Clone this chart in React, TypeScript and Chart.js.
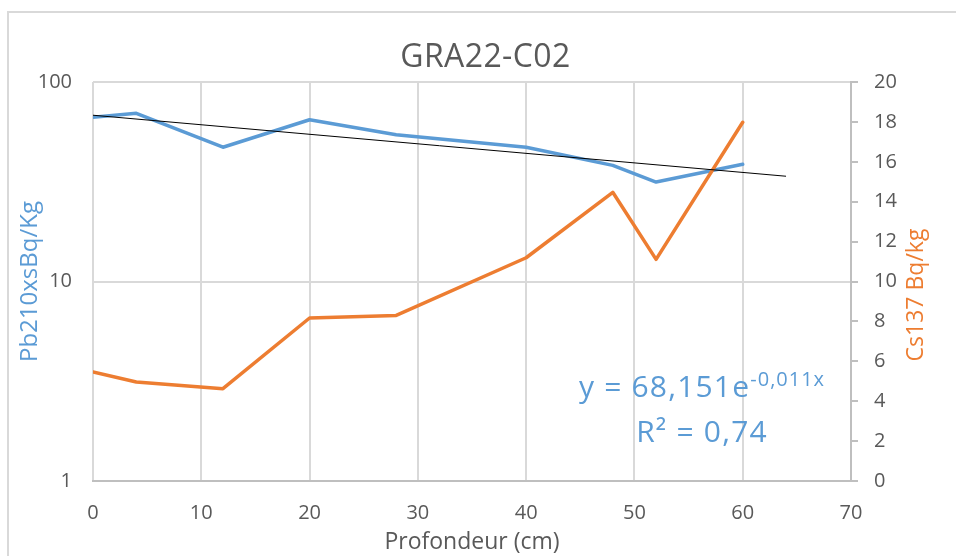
import React, { useEffect, useRef } from 'react';
import { Chart, registerables } from 'chart.js';

Chart.register(...registerables);

// ---- data ----
const depths = [0, 4, 12, 20, 28, 40, 48, 52, 60];
const pb210 = [66.5, 69.7, 47.1, 64.7, 54.4, 47.1, 38.2, 31.5, 38.7];
const cs137 = [5.46, 4.96, 4.63, 8.17, 8.3, 11.19, 14.47, 11.11, 17.98];
const trendDepths = [0, 64];
const trendValues = [68.15, 33.7];
const leftTicks = [1, 10, 100];

const titleText = 'GRA22-C02';
const xTitle = 'Profondeur (cm)';
const leftTitle = 'Pb210xsBq/Kg';
const rightTitle = 'Cs137 Bq/kg';
const eqMain = 'y = 68,151e';
const eqExp = '-0,011x';
const r2Text = 'R² = 0,74';

// ---- styles ----
const FONT = '"Open Sans", "Noto Sans", sans-serif';
const GRAY = '#595959';
const BLUE = '#5B9BD5';
const ORANGE = '#ED7D31';
const GRID = '#d9d9d9';
const AXIS = '#bfbfbf';

const textPlugin = {
  id: 'extraTexts',
  afterDraw(chart: any) {
    const ctx = chart.ctx as any;
    ctx.save();
    // title
    ctx.fillStyle = GRAY;
    ctx.font = `32px ${FONT}`;
    ctx.letterSpacing = '0.4px';
    ctx.textAlign = 'center';
    ctx.textBaseline = 'alphabetic';
    ctx.fillText(titleText, 485.5, 67);

    // equation
    ctx.fillStyle = BLUE;
    ctx.letterSpacing = '1.2px';
    ctx.font = `30px ${FONT}`;
    const w1 = ctx.measureText(eqMain).width;
    ctx.letterSpacing = '1px';
    ctx.font = `20px ${FONT}`;
    const w2 = ctx.measureText(eqExp).width;
    const start = 702 - (w1 + w2) / 2;
    ctx.textAlign = 'left';
    ctx.letterSpacing = '1.2px';
    ctx.font = `30px ${FONT}`;
    ctx.fillText(eqMain, start, 397);
    ctx.letterSpacing = '1px';
    ctx.font = `20px ${FONT}`;
    ctx.fillText(eqExp, start + w1, 386);
    ctx.letterSpacing = '1.2px';
    ctx.font = `30px ${FONT}`;
    ctx.textAlign = 'center';
    ctx.fillText(r2Text, 702, 442);

    // right axis title (reads bottom to top)
    ctx.letterSpacing = '0px';
    ctx.translate(923, 295);
    ctx.rotate(-Math.PI / 2);
    ctx.fillStyle = ORANGE;
    ctx.font = `23px ${FONT}`;
    ctx.textAlign = 'center';
    ctx.textBaseline = 'alphabetic';
    ctx.fillText(rightTitle, 0, 0);
    ctx.restore();
  },
};

export default function App() {
  const ref = useRef<HTMLCanvasElement>(null);

  useEffect(() => {
    const chart = new Chart(ref.current as HTMLCanvasElement, {
      type: 'line',
      data: {
        datasets: [
          {
            label: 'Pb210xs',
            data: depths.map((d, i) => ({ x: d, y: pb210[i] })),
            yAxisID: 'y',
            borderColor: BLUE,
            backgroundColor: BLUE,
            borderWidth: 3.5,
            pointRadius: 0,
            borderJoinStyle: 'round',
            borderCapStyle: 'round',
            order: 2,
          },
          {
            label: 'Cs137',
            data: depths.map((d, i) => ({ x: d, y: cs137[i] })),
            yAxisID: 'y1',
            borderColor: ORANGE,
            backgroundColor: ORANGE,
            borderWidth: 3.5,
            pointRadius: 0,
            borderJoinStyle: 'round',
            borderCapStyle: 'round',
            order: 1,
          },
          {
            label: 'Expon. (Pb210xs)',
            data: trendDepths.map((d, i) => ({ x: d, y: trendValues[i] })),
            yAxisID: 'y',
            borderColor: '#000000',
            backgroundColor: '#000000',
            borderWidth: 1,
            pointRadius: 0,
            order: 0,
          },
        ],
      },
      options: {
        responsive: false,
        animation: false,
        devicePixelRatio: 1,
        layout: { padding: { top: 82, left: 0, right: 0, bottom: 0 } },
        plugins: {
          legend: { display: false },
          tooltip: { enabled: false },
          title: { display: false },
        },
        scales: {
          x: {
            type: 'linear',
            position: 'bottom',
            min: 0,
            max: 70,
            ticks: { stepSize: 10, color: GRAY, font: { family: FONT, size: 20 }, padding: 20 },
            grid: { color: GRID, lineWidth: 2, drawTicks: false },
            border: { display: true, color: AXIS, width: 2 },
            title: {
              display: true,
              text: xTitle,
              color: GRAY,
              font: { family: FONT, size: 23 },
              padding: { top: 0, bottom: 0 },
            },
            afterFit: (s: any) => {
              s.height = 75;
            },
          },
          y: {
            type: 'logarithmic',
            position: 'left',
            min: 1,
            max: 100,
            afterBuildTicks: (s: any) => {
              s.ticks = leftTicks.map((v) => ({ value: v }));
            },
            ticks: {
              color: GRAY,
              font: { family: FONT, size: 20 },
              padding: 21,
              callback: (v: any) => String(v),
            },
            grid: {
              color: (c: any) => (c.tick && c.tick.value === 1 ? 'rgba(0,0,0,0)' : GRID),
              lineWidth: 2,
              drawTicks: false,
            },
            border: { display: false },
            title: {
              display: true,
              text: leftTitle,
              color: BLUE,
              font: { family: FONT, size: 24 },
              padding: { top: 16, bottom: 0 },
            },
            afterFit: (s: any) => {
              s.width = 93;
            },
          },
          y1: {
            type: 'linear',
            position: 'right',
            min: 0,
            max: 20,
            ticks: { stepSize: 2, color: GRAY, font: { family: FONT, size: 20 }, padding: 16 },
            grid: { drawOnChartArea: false, drawTicks: true, tickLength: 7, color: AXIS, lineWidth: 2 },
            border: { display: true, color: AXIS, width: 2 },
            afterFit: (s: any) => {
              s.width = 105;
            },
          },
        },
      } as any,
      plugins: [textPlugin],
    });
    return () => chart.destroy();
  }, []);

  return (
    <div
      style={{
        position: 'fixed',
        left: 0,
        top: 0,
        width: 956,
        height: 556,
        background: '#ffffff',
        overflow: 'hidden',
      }}
    >
      <div
        style={{
          position: 'absolute',
          left: 7,
          top: 11,
          width: 1000,
          height: 600,
          borderLeft: `2px solid ${GRID}`,
          borderTop: `2px solid ${GRID}`,
        }}
      />
      <canvas
        ref={ref}
        width={956}
        height={556}
        style={{ position: 'absolute', left: 0, top: 0, width: 956, height: 556 }}
      />
    </div>
  );
}
